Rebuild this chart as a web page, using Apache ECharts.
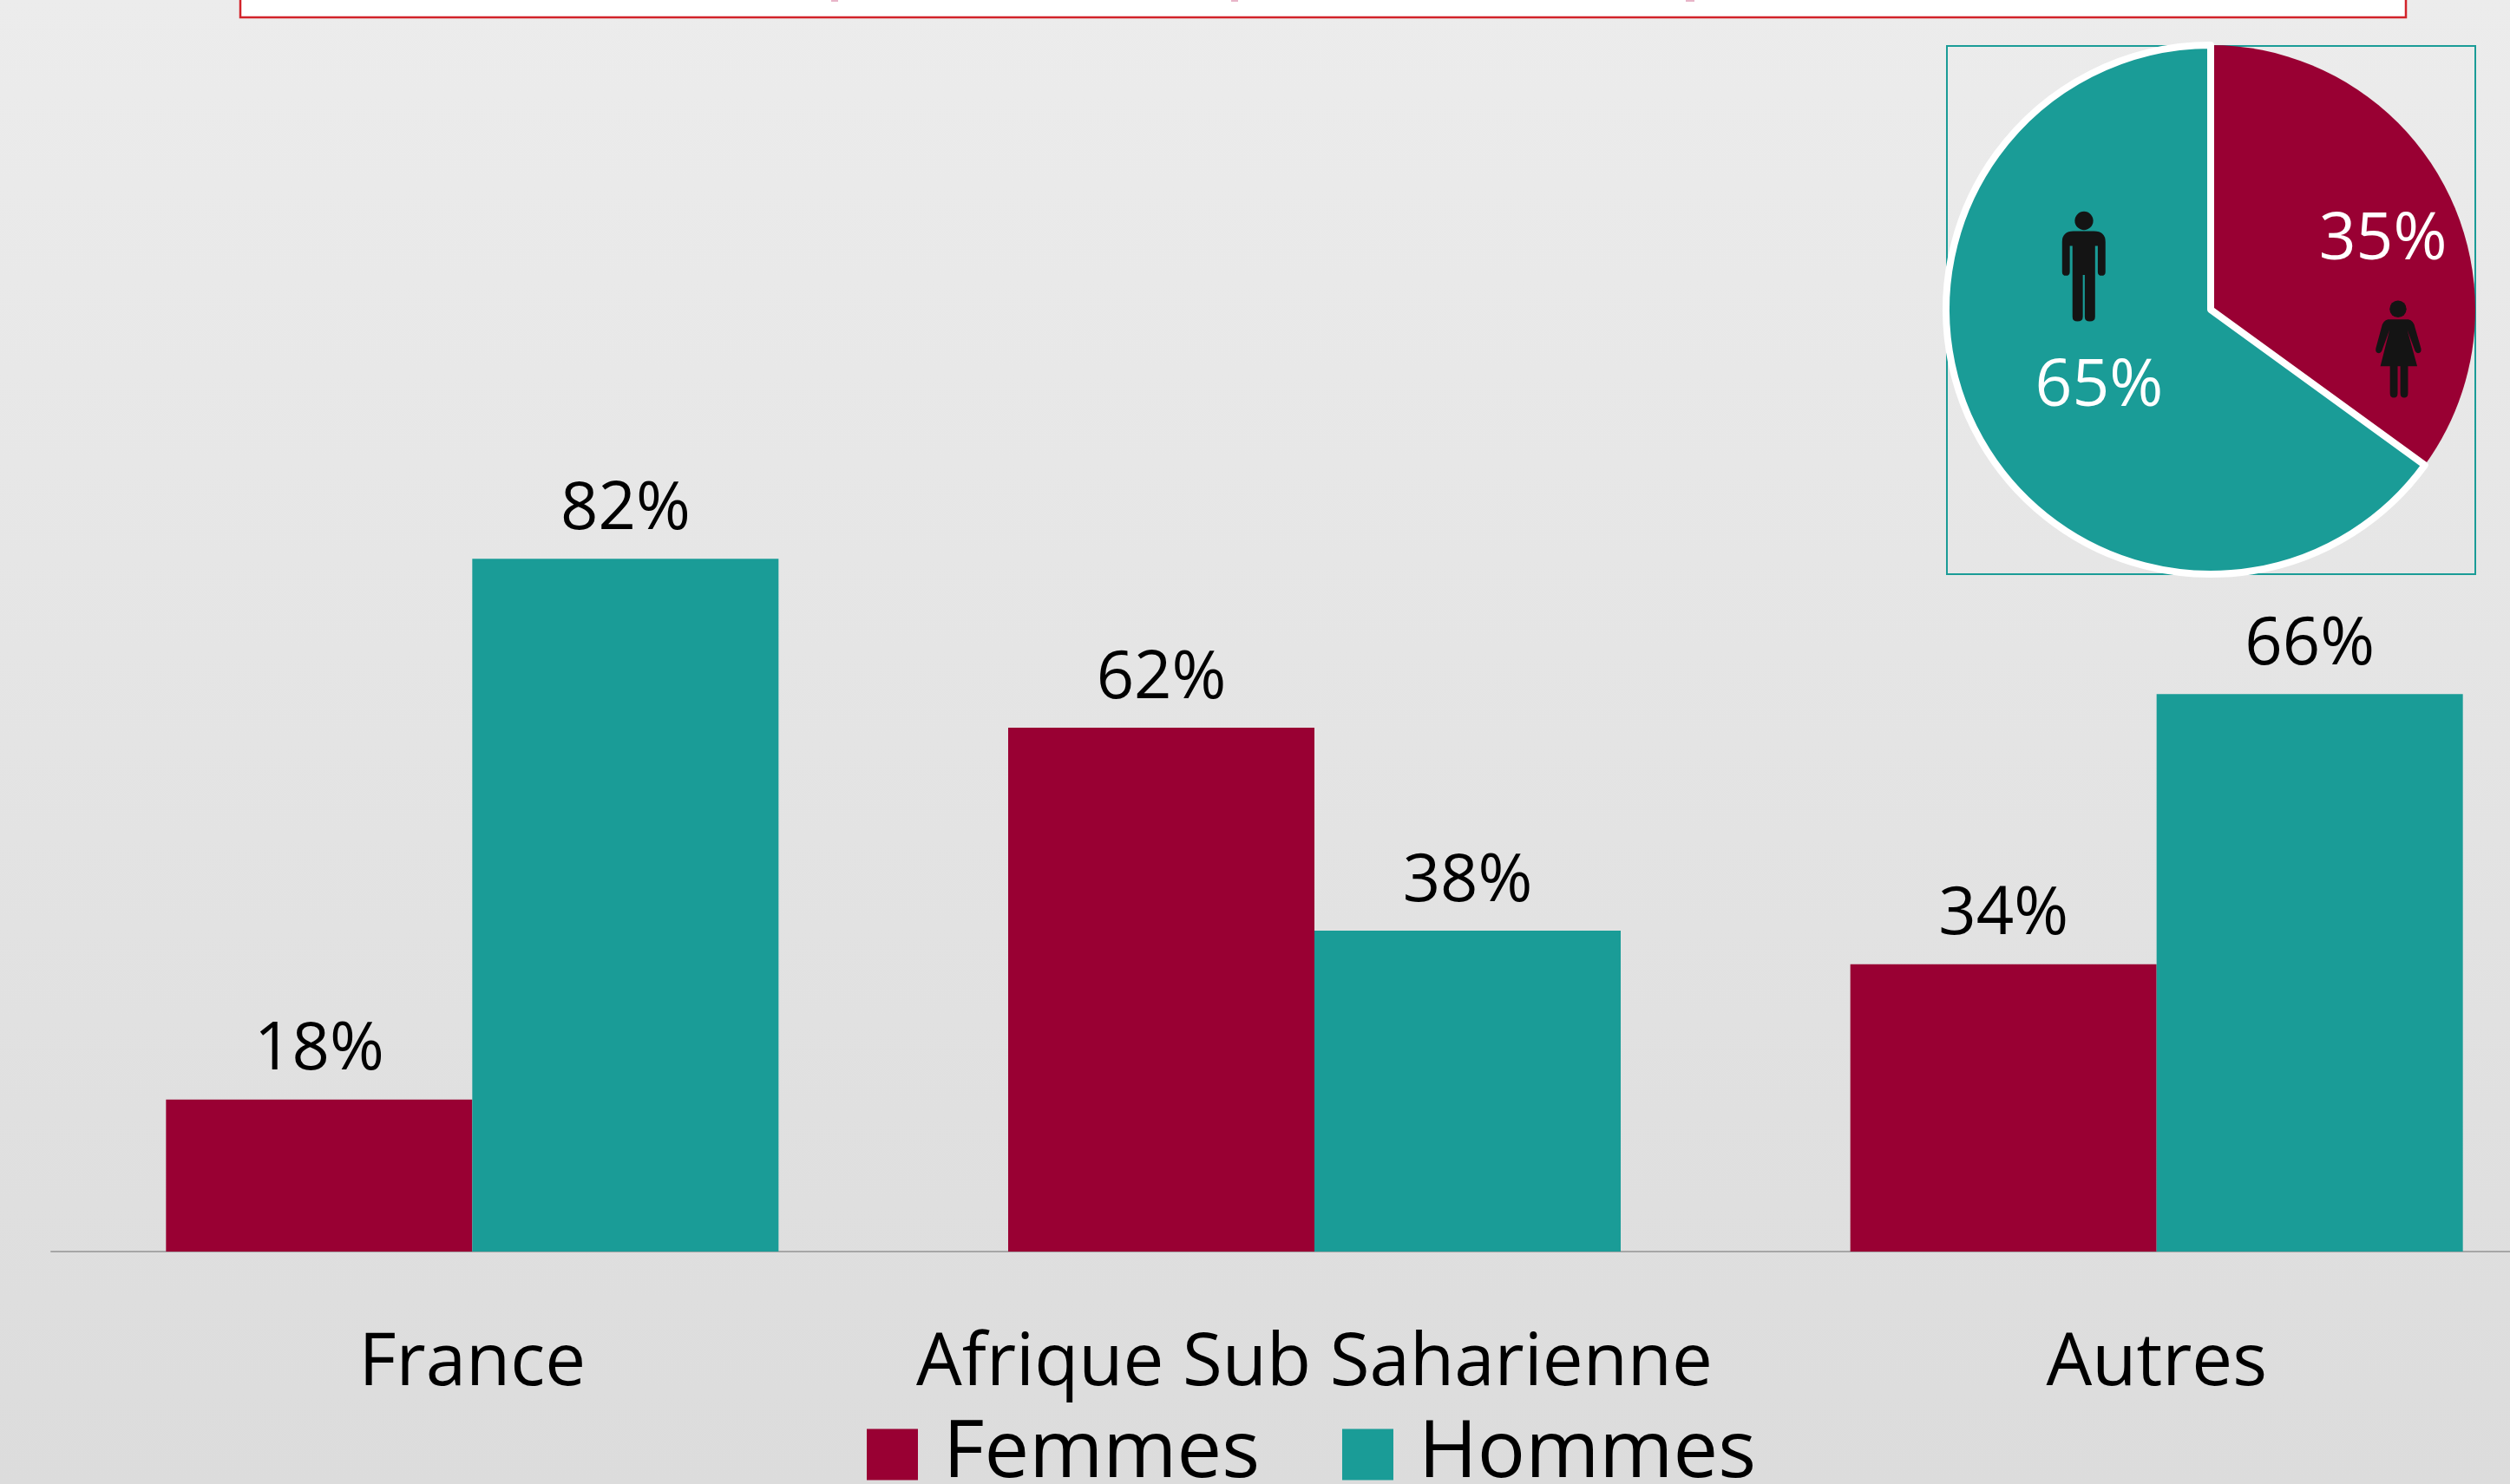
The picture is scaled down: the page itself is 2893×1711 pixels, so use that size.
<!DOCTYPE html>
<html><head><meta charset="utf-8">
<style>html,body{margin:0;padding:0;overflow:hidden}#c{width:2893px;height:1711px}</style>
<script src="https://cdn.jsdelivr.net/npm/echarts@6/dist/echarts.min.js"></script></head>
<body><div id="c"></div>
<script>
const categories = ['France', 'Afrique Sub Saharienne', 'Autres'];
const femmes = [18, 62, 34];
const hommes = [82, 38, 66];
const overallFemmes = 35;
const overallHommes = 65;
const RED = '#990033', TEAL = '#1a9c97', FONT = '"Open Sans"';
const manPath = 'M400 625Q400 597 430 597L483 597Q513 597 513 625L513 702Q513 712 503 712Q493 712 493 702L493 635L486 635L486 818Q486 830 472 830Q459 830 459 818L459 710L454 710L454 818Q454 830 440 830Q427 830 427 818L427 635L420 635L420 702Q420 712 410 712Q400 712 400 702Z';
const womanPath = 'M1250 825L1303 825Q1316 827 1320 845L1336 900Q1338 912 1328 912Q1321 912 1318 900L1300 852L1326 946L1302 946L1302 1015Q1302 1027 1292 1027Q1282 1027 1282 1015L1282 946L1275 946L1275 1015Q1275 1027 1265 1027Q1255 1027 1255 1015L1255 946L1230 946L1254 852L1236 900Q1233 912 1226 912Q1216 912 1218 900L1233 845Q1237 827 1250 825Z';
echarts.graphic.registerShape('manIcon', echarts.graphic.extendPath(manPath, {}));
echarts.graphic.registerShape('womanIcon', echarts.graphic.extendPath(womanPath, {}));
const chart = echarts.init(document.getElementById('c'), null, {renderer: 'canvas'});
const barLabel = {show: true, position: 'top', distance: 18, formatter: '{c}%', fontFamily: FONT, fontSize: 76, color: '#000'};
const pink = {fill: '#e8b4c8'};
chart.setOption({
  animation: false,
  backgroundColor: {type: 'linear', x: 0, y: 0, x2: 0, y2: 1, colorStops: [{offset: 0, color: '#ececec'}, {offset: 1, color: '#dcdcdc'}]},
  grid: {left: 59, top: 469, width: 2912, height: 974, containLabel: false, outerBoundsMode: 'none'},
  xAxis: {type: 'category', data: categories, axisTick: {show: false},
    axisLine: {lineStyle: {color: '#a6a6a6', width: 2}},
    axisLabel: {fontFamily: FONT, fontSize: 83.5, color: '#000', margin: 88, interval: 0}},
  yAxis: {type: 'value', min: 0, max: 100, show: false, splitLine: {show: false}},
  legend: {left: 999, top: 1631, padding: 0, icon: 'rect', itemWidth: 59, itemHeight: 59, itemGap: 95,
    data: ['Femmes', 'Hommes'], selectedMode: false,
    textStyle: {fontFamily: FONT, fontSize: 92, color: '#000', padding: [0, 0, 0, 24]}},
  series: [
    {name: 'Femmes', type: 'bar', data: femmes, barWidth: 353, barGap: 0, itemStyle: {color: RED}, label: barLabel},
    {name: 'Hommes', type: 'bar', data: hommes, barWidth: 353, barGap: 0, itemStyle: {color: TEAL}, label: barLabel},
    {type: 'pie', center: [2548, 357], radius: [0, 305], startAngle: 90, clockwise: true, silent: true,
      label: {show: true, position: 'inside', fontFamily: FONT, fontSize: 75, color: '#fff', formatter: '{c}%'},
      labelLine: {show: false},
      data: [
        {name: 'F', value: overallFemmes, itemStyle: {color: RED, borderWidth: 0}, label: {offset: [60, -9]}},
        {name: 'H', value: overallHommes, itemStyle: {color: TEAL, borderColor: '#fff', borderWidth: 8}, label: {offset: [10, 19]}}
      ]}
  ],
  graphic: [
    {type: 'rect', z: 0, shape: {x: 277, y: -20, width: 2496, height: 40}, style: {fill: '#fff', stroke: '#d2232a', lineWidth: 2.5}},
    {type: 'rect', z: 1, shape: {x: 958, y: 0, width: 8, height: 2}, style: pink},
    {type: 'rect', z: 1, shape: {x: 1419, y: 0, width: 8, height: 2}, style: pink},
    {type: 'rect', z: 1, shape: {x: 1943, y: 0, width: 10, height: 2}, style: pink},
    {type: 'rect', z: 0, shape: {x: 2244, y: 53, width: 609, height: 609}, style: {fill: 'none', stroke: TEAL, lineWidth: 2}},
    {type: 'group', x: 2200, y: 0, scaleX: 1 / 2.2626, scaleY: 1 / 2.24, z: 50, children: [
      {type: 'circle', z: 50, shape: {cx: 457, cy: 570, r: 24}, style: {fill: '#141414'}},
      {type: 'manIcon', z: 50, style: {fill: '#141414'}},
      {type: 'circle', z: 50, shape: {cx: 1276, cy: 798, r: 22}, style: {fill: '#141414'}},
      {type: 'womanIcon', z: 50, style: {fill: '#141414'}}
    ]}
  ]
});
</script></body></html>
